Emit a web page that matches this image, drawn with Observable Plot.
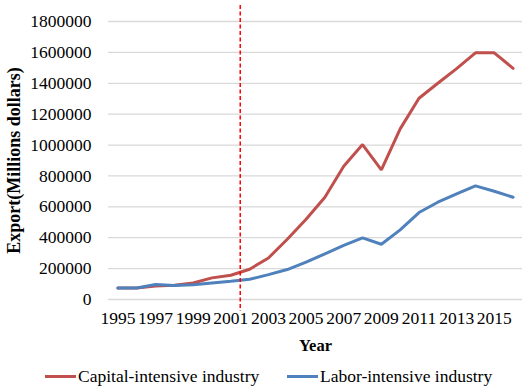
<!DOCTYPE html>
<html>
<head>
<meta charset="utf-8">
<script src="https://cdn.jsdelivr.net/npm/d3@7"></script>
<script src="https://cdn.jsdelivr.net/npm/@observablehq/plot@0.6"></script>
<style>
  html, body { margin: 0; padding: 0; background: #fff; }
  #chart { width: 529px; height: 390px; position: relative; font-family: "Liberation Serif", "Times New Roman", serif; }
  .legend { position: absolute; left: 0; top: 362px; width: 529px; height: 28px; font-size: 17.5px; color: #000; }
  .legend .item { position: absolute; top: 0; display: flex; align-items: center; height: 28px; }
  .legend .sw { width: 31px; height: 3px; margin-right: 2px; }
</style>
</head>
<body>
<div id="chart"></div>
<script>
const years = [1995,1996,1997,1998,1999,2000,2001,2002,2003,2004,2005,2006,2007,2008,2009,2010,2011,2012,2013,2014,2015,2016];
const capital = [75000,75000,88000,92000,107000,140000,157000,196000,269000,390000,520000,662000,863000,1003000,839000,1105000,1303000,1400000,1495000,1597000,1597000,1497000];
const labor = [75000,75000,97000,90000,95000,107000,118000,131000,161000,194000,242000,296000,350000,399000,358000,451000,563000,630000,684000,736000,701000,662000];
const seriesNames = ["Capital-intensive industry", "Labor-intensive industry"];
const seriesColors = ["#c0504d", "#4f81bd"];
const xTicks = [1995,1997,1999,2001,2003,2005,2007,2009,2011,2013,2015];
const yTicks = [0,200000,400000,600000,800000,1000000,1200000,1400000,1600000,1800000];
const markerYear = [2001.5];

const rows = [];
years.forEach((y, i) => {
  rows.push({year: y, value: capital[i], series: seriesNames[0]});
  rows.push({year: y, value: labor[i], series: seriesNames[1]});
});

const font = '"Liberation Serif", "Times New Roman", serif';

const plot = Plot.plot({
  width: 529,
  height: 360,
  marginLeft: 108,
  marginRight: 7,
  marginTop: 21,
  marginBottom: 61,
  style: {fontFamily: font, fontSize: "17.5px", color: "#000", background: "#fff"},
  x: {domain: [1994.5, 2016.5], ticks: xTicks, tickFormat: d3.format("d"), tickSize: 0, tickPadding: 12, label: null},
  y: {domain: [0, 1800000], ticks: yTicks, tickFormat: d3.format("d"), tickSize: 0, tickPadding: 17, label: null},
  color: {domain: seriesNames, range: seriesColors},
  marks: [
    Plot.gridY(yTicks, {stroke: "#d9d9d9", strokeOpacity: 1, strokeWidth: 1.3}),
    Plot.lineY(rows, {x: "year", y: "value", z: "series", stroke: "series", strokeWidth: 3, strokeLinejoin: "miter"}),
    Plot.ruleX(markerYear, {stroke: "#ff0000", strokeWidth: 1.5, strokeDasharray: "4,2.5", insetTop: -16, insetBottom: -12}),
    Plot.axisX({ticks: xTicks, tickFormat: d3.format("d"), tickSize: 0, tickPadding: 12, fontSize: 17.5}),
    Plot.axisY({ticks: yTicks, tickFormat: d3.format("d"), tickSize: 0, tickPadding: 17, fontSize: 17.5}),
    Plot.text(["Year"], {frameAnchor: "bottom", lineAnchor: "middle", dy: 46, text: d => d, fontWeight: "bold", fontSize: 16.5}),
    Plot.text(["Export(Millions dollars)"], {frameAnchor: "left", textAnchor: "middle", lineAnchor: "middle", dx: -94, rotate: -90, text: d => d, fontWeight: "bold", fontSize: 18})
  ]
});

const chart = document.getElementById("chart");
chart.appendChild(plot);

const legend = document.createElement("div");
legend.className = "legend";
const lefts = [45, 287];
seriesNames.forEach((name, i) => {
  const item = document.createElement("div");
  item.className = "item";
  item.style.left = lefts[i] + "px";
  const sw = document.createElement("span");
  sw.className = "sw";
  sw.style.background = seriesColors[i];
  const t = document.createElement("span");
  t.textContent = name;
  item.appendChild(sw);
  item.appendChild(t);
  legend.appendChild(item);
});
chart.appendChild(legend);
</script>
</body>
</html>
